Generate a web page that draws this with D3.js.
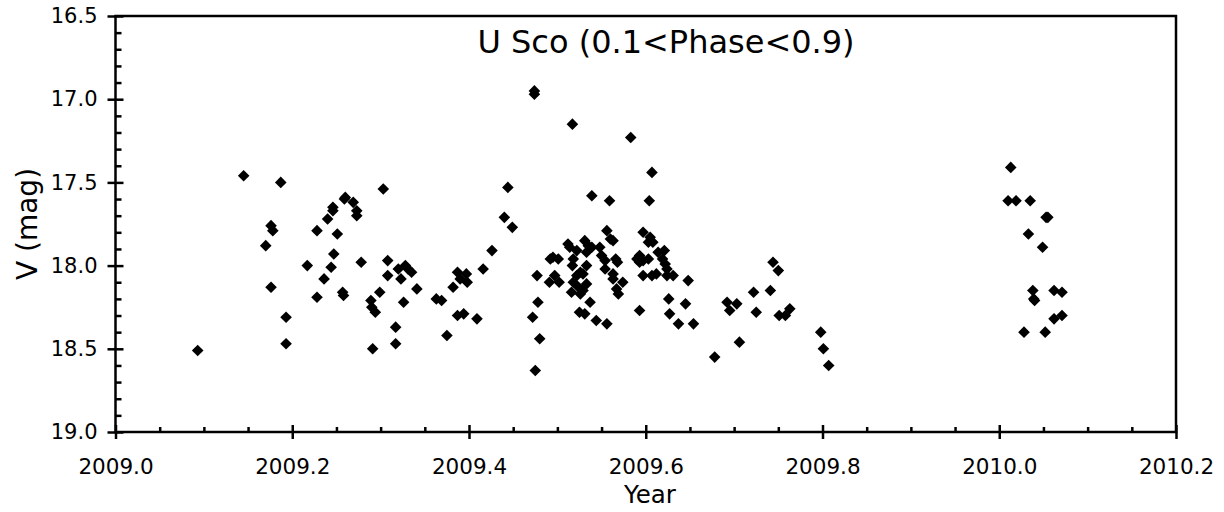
<!DOCTYPE html>
<html>
<head>
<meta charset="utf-8">
<script src="https://cdn.jsdelivr.net/npm/d3@7"></script>
<style>
  html, body { margin: 0; padding: 0; background: #fff; }
  svg { display: block; }
  text { font-family: "DejaVu Sans", Verdana, sans-serif; fill: #000; }
</style>
</head>
<body>
<svg id="chart" width="1224" height="512"></svg>
<script>
// ---- Data ----
const chartTitle = "U Sco (0.1<Phase<0.9)";
const xLabel = "Year";
const yLabel = "V (mag)";
const xMajorTicks = [2009.0, 2009.2, 2009.4, 2009.6, 2009.8, 2010.0, 2010.2];
const yMajorTicks = [16.5, 17.0, 17.5, 18.0, 18.5, 19.0];

const years = [
  2009.093, 2009.145, 2009.170, 2009.176, 2009.178, 2009.176, 2009.187, 2009.193, 2009.193, 2009.217,
  2009.228, 2009.228, 2009.236, 2009.240, 2009.244, 2009.246, 2009.246, 2009.247, 2009.251, 2009.257,
  2009.258, 2009.259, 2009.260, 2009.269, 2009.273, 2009.273, 2009.278, 2009.289, 2009.290, 2009.291,
  2009.294, 2009.299, 2009.303, 2009.308, 2009.308, 2009.317, 2009.317, 2009.320, 2009.323, 2009.326,
  2009.328, 2009.331, 2009.335, 2009.341, 2009.363, 2009.369, 2009.375, 2009.382, 2009.387, 2009.387,
  2009.390, 2009.394, 2009.397, 2009.398, 2009.409, 2009.416, 2009.426, 2009.440, 2009.444, 2009.449,
  2009.472, 2009.474, 2009.474, 2009.475, 2009.477, 2009.478, 2009.480, 2009.491, 2009.492, 2009.495,
  2009.497, 2009.501, 2009.502, 2009.512, 2009.514, 2009.516, 2009.517, 2009.517, 2009.518, 2009.518,
  2009.522, 2009.522, 2009.524, 2009.525, 2009.526, 2009.526, 2009.529, 2009.529, 2009.531, 2009.531,
  2009.533, 2009.533, 2009.533, 2009.535, 2009.537, 2009.539, 2009.539, 2009.544, 2009.548, 2009.550,
  2009.554, 2009.554, 2009.556, 2009.556, 2009.559, 2009.560, 2009.563, 2009.563, 2009.563, 2009.566,
  2009.567, 2009.568, 2009.569, 2009.574, 2009.583, 2009.590, 2009.593, 2009.593, 2009.593, 2009.597,
  2009.597, 2009.597, 2009.603, 2009.603, 2009.604, 2009.605, 2009.607, 2009.607, 2009.608, 2009.612,
  2009.614, 2009.619, 2009.621, 2009.622, 2009.624, 2009.624, 2009.626, 2009.627, 2009.631, 2009.637,
  2009.645, 2009.648, 2009.654, 2009.678, 2009.692, 2009.695, 2009.703, 2009.706, 2009.722, 2009.725,
  2009.741, 2009.744, 2009.750, 2009.751, 2009.758, 2009.763, 2009.798, 2009.801, 2009.807, 2010.010,
  2010.013, 2010.019, 2010.028, 2010.033, 2010.035, 2010.038, 2010.039, 2010.040, 2010.049, 2010.052,
  2010.053, 2010.055, 2010.062, 2010.062, 2010.071, 2010.071
];
const mags = [
  18.51, 17.46, 17.88, 17.76, 17.79, 18.13, 17.50, 18.31, 18.47, 18.00,
  17.79, 18.19, 18.08, 17.72, 18.01, 17.65, 17.67, 17.93, 17.81, 18.16,
  18.18, 17.60, 17.59, 17.62, 17.67, 17.70, 17.98, 18.21, 18.25, 18.50,
  18.28, 18.16, 17.54, 17.97, 18.06, 18.37, 18.47, 18.02, 18.08, 18.22,
  18.00, 18.02, 18.04, 18.14, 18.20, 18.21, 18.42, 18.13, 18.04, 18.30,
  18.08, 18.29, 18.05, 18.10, 18.32, 18.02, 17.91, 17.71, 17.53, 17.77,
  18.31, 16.95, 16.97, 18.63, 18.06, 18.22, 18.44, 18.10, 17.96, 17.95,
  18.06, 17.96, 18.10, 17.87, 17.89, 18.16, 17.15, 18.00, 17.96, 18.10,
  17.91, 18.06, 18.13, 18.28, 18.04, 18.17, 18.05, 18.15, 17.85, 18.29,
  17.92, 18.00, 18.11, 17.88, 18.22, 17.89, 17.58, 18.33, 17.89, 17.94,
  17.97, 18.02, 17.79, 18.35, 17.61, 17.84, 17.85, 18.05, 18.08, 17.96,
  18.14, 17.98, 18.17, 18.10, 17.23, 17.96, 17.94, 17.98, 18.27, 17.97,
  18.06, 17.80, 17.96, 17.86, 17.61, 17.83, 17.44, 18.06, 17.86, 18.05,
  17.92, 17.96, 17.91, 17.99, 18.02, 18.06, 18.20, 18.29, 18.06, 18.35,
  18.23, 18.09, 18.35, 18.55, 18.22, 18.27, 18.23, 18.46, 18.16, 18.28,
  18.15, 17.98, 18.03, 18.30, 18.30, 18.26, 18.40, 18.50, 18.60, 17.61,
  17.41, 17.61, 18.40, 17.81, 17.61, 18.15, 18.20, 18.21, 17.89, 18.40,
  17.71, 17.71, 18.15, 18.32, 18.16, 18.30
];

// ---- Layout ----
const svg = d3.select("#chart");
const mLeft = 115.5, mRight = 1176, mTop = 16, mBottom = 432;

const x = d3.scaleLinear().domain([2009.0, 2010.2]).range([mLeft, mRight]);
const y = d3.scaleLinear().domain([16.5, 19.0]).range([mTop, mBottom]);

const xMinor = d3.range(0, 25).map(i => 2009.0 + i * 0.05).filter(v => Math.abs(((v - 2009.0) / 0.2) - Math.round((v - 2009.0) / 0.2)) > 1e-6);
const yMinor = d3.range(0, 26).map(i => 16.5 + i * 0.1).filter(v => Math.abs(((v - 16.5) / 0.5) - Math.round((v - 16.5) / 0.5)) > 1e-6);

const fmt = d3.format(".1f");

// frame
svg.append("rect")
  .attr("x", mLeft).attr("y", mTop)
  .attr("width", mRight - mLeft).attr("height", mBottom - mTop)
  .attr("fill", "none").attr("stroke", "#000").attr("stroke-width", 2.5);

function styleAxis(g) {
  g.select(".domain").remove();
  g.selectAll(".tick line").attr("stroke", "#000").attr("stroke-width", 2.5);
}

// Y axis: major ticks crossing (outer with labels + inner), minor inner
svg.append("g").attr("transform", `translate(${mLeft},0)`)
  .call(d3.axisLeft(y).tickValues(yMajorTicks).tickSize(8).tickPadding(10).tickFormat(fmt))
  .call(styleAxis)
  .call(g => g.selectAll("text").attr("font-size", 21).attr("font-family", "DejaVu Sans"));
svg.append("g").attr("transform", `translate(${mLeft},0)`)
  .call(d3.axisRight(y).tickValues(yMajorTicks).tickSize(8).tickFormat(""))
  .call(styleAxis);
svg.append("g").attr("transform", `translate(${mLeft},0)`)
  .call(d3.axisRight(y).tickValues(yMinor).tickSize(6).tickFormat(""))
  .call(styleAxis);

// X axis
svg.append("g").attr("transform", `translate(0,${mBottom})`)
  .call(d3.axisBottom(x).tickValues(xMajorTicks).tickSize(7).tickPadding(20).tickFormat(fmt))
  .call(styleAxis)
  .call(g => g.selectAll("text").attr("font-size", 21.5).attr("font-family", "DejaVu Sans"));
svg.append("g").attr("transform", `translate(0,${mBottom})`)
  .call(d3.axisTop(x).tickValues(xMajorTicks).tickSize(7).tickFormat(""))
  .call(styleAxis);
svg.append("g").attr("transform", `translate(0,${mBottom})`)
  .call(d3.axisTop(x).tickValues(xMinor).tickSize(5).tickFormat(""))
  .call(styleAxis);

// points (diamonds)
const pts = years.map((yr, i) => ({ yr, m: mags[i] }));
const r = 5.8;
const diamond = `M0,${-r}L${r},0L0,${r}L${-r},0Z`;
svg.append("g").selectAll("path")
  .data(pts)
  .join("path")
  .attr("d", diamond)
  .attr("transform", d => `translate(${x(d.yr)},${y(d.m)})`)
  .attr("fill", "#000");

// title
svg.append("text")
  .attr("x", 666).attr("y", 53)
  .attr("text-anchor", "middle")
  .attr("font-size", 32)
  .text(chartTitle);

// axis labels
svg.append("text")
  .attr("x", 650).attr("y", 503)
  .attr("text-anchor", "middle")
  .attr("font-size", 24.5)
  .text(xLabel);

svg.append("text")
  .attr("transform", `translate(37,${(mTop + mBottom) / 2}) rotate(-90)`)
  .attr("text-anchor", "middle")
  .attr("font-size", 28)
  .text(yLabel);
</script>
</body>
</html>
